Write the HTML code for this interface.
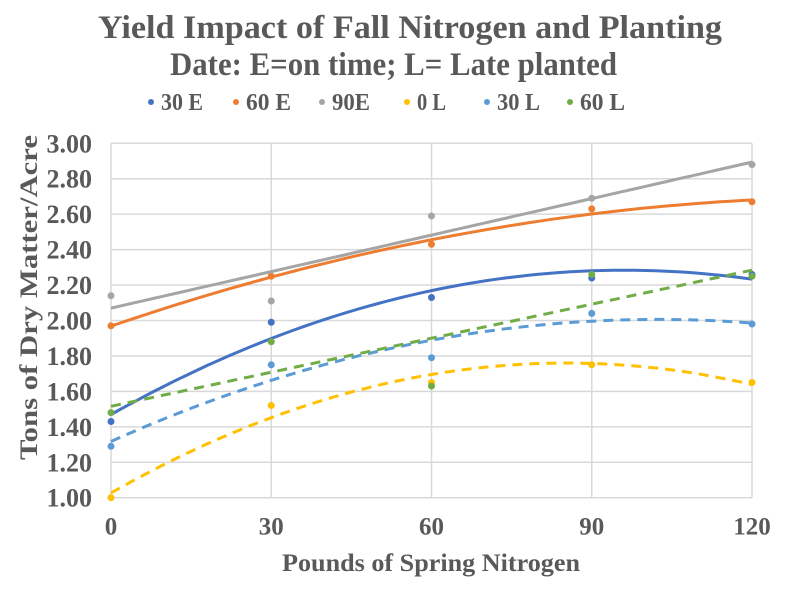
<!DOCTYPE html>
<html><head><meta charset="utf-8"><style>
body{margin:0;background:#fff;}
svg text{font-family:"Liberation Serif",serif;font-weight:bold;fill:#595959;}
</style></head><body>
<svg id="c" width="798" height="594">
<text x="98" y="38" font-size="33" textLength="624" lengthAdjust="spacingAndGlyphs">Yield Impact of Fall Nitrogen and Planting</text>
<text x="170" y="75" font-size="33" textLength="447" lengthAdjust="spacingAndGlyphs">Date: E=on time; L= Late planted</text>
<g id="legend"></g>
<g id="grid"></g>
<g id="series"></g>
<text x="282" y="571" font-size="25" textLength="298" lengthAdjust="spacingAndGlyphs">Pounds of Spring Nitrogen</text>
<text transform="translate(37,460) rotate(-90)" font-size="25" textLength="325" lengthAdjust="spacingAndGlyphs">Tons of Dry Matter/Acre</text>
</svg>
<script>
const xValues=[0,30,60,90,120];
const yTicks=[1.0,1.2,1.4,1.6,1.8,2.0,2.2,2.4,2.6,2.8,3.0];
const seriesNames=["30 E","60 E","90E","0 L","30 L","60 L"];
const s30E=[1.43,1.99,2.13,2.24,2.26];
const s60E=[1.97,2.25,2.43,2.63,2.67];
const s90E=[2.14,2.11,2.59,2.69,2.88];
const s0L=[1.0,1.52,1.65,1.75,1.65];
const s30L=[1.29,1.75,1.79,2.04,1.98];
const s60L=[1.48,1.88,1.63,2.26,2.25];
const allSeries=[s30E,s60E,s90E,s0L,s30L,s60L];
const colors=["#4472C4","#ED7D31","#A5A5A5","#FFC000","#5B9BD5","#70AD47"];
const dashed=[false,false,false,true,true,true];
const order=[2,2,1,2,2,1];
const NS="http://www.w3.org/2000/svg";
const X0=111,X1=752,Y0=497.7,Y1=143.3;
const sx=v=>X0+(v-0)/120*(X1-X0);
const sy=v=>Y0-(v-1)/2*(Y0-Y1);
function mk(t,a,p){const e=document.createElementNS(NS,t);for(const k in a)e.setAttribute(k,a[k]);p.appendChild(e);return e;}
const grid=document.getElementById('grid');
yTicks.forEach(t=>{
 const l=mk('line',{x1:X0,x2:X1,y1:sy(t),y2:sy(t),stroke:'#d9d9d9','stroke-width':1.5},grid);
 
 
 const tx=mk('text',{x:92,y:sy(t)+9,'font-size':26,'text-anchor':'end'},grid);tx.textContent=t.toFixed(2);
 
 
});
xValues.forEach(v=>{
 const l=mk('line',{x1:sx(v),x2:sx(v),y1:Y1,y2:Y0,stroke:'#d9d9d9','stroke-width':1.5},grid);
 
 
 const tx=mk('text',{x:sx(v),y:Y0+37,'font-size':25,'text-anchor':'middle'},grid);tx.textContent=v;
 
 
});
function solve(A,b){const n=b.length;A=A.map((r,i)=>[...r,b[i]]);for(let i=0;i<n;i++){let m=i;for(let j=i+1;j<n;j++)if(Math.abs(A[j][i])>Math.abs(A[m][i]))m=j;[A[i],A[m]]=[A[m],A[i]];for(let j=i+1;j<n;j++){const f=A[j][i]/A[i][i];for(let k=i;k<=n;k++)A[j][k]-=f*A[i][k];}}const x=new Array(n).fill(0);for(let i=n-1;i>=0;i--){let s=A[i][n];for(let k=i+1;k<n;k++)s-=A[i][k]*x[k];x[i]=s/A[i][i];}return x;}
function fit(ys,deg){const n=deg+1;const A=[...Array(n)].map(()=>new Array(n).fill(0)),b=new Array(n).fill(0);xValues.forEach((x,i)=>{if(ys[i]==null)return;for(let r=0;r<n;r++){b[r]+=ys[i]*Math.pow(x,r);for(let c=0;c<n;c++)A[r][c]+=Math.pow(x,r+c);}});return solve(A,b);}
const sg=document.getElementById('series');
allSeries.forEach((ys,si)=>{
 const g=mk('g',{},sg);
 
 
 const c=fit(ys,order[si]);let d='';
 for(let x=0;x<=120;x+=2){const y=c.reduce((s,a,k)=>s+a*Math.pow(x,k),0);d+=(x?'L':'M')+sx(x).toFixed(1)+','+sy(y).toFixed(1);}
 const p=mk('path',{d:d,fill:'none',stroke:colors[si],'stroke-width':3,'stroke-dasharray':dashed[si]?'10,7':'none'},g);
 
 
 ys.forEach((y,i)=>{if(y==null)return;
  const pt=mk('circle',{cx:sx(xValues[i]),cy:sy(y),r:3.5,fill:colors[si]},g);
  
  });
});
const lg=document.getElementById('legend');
const lx=[151,236,322,407,487,570];
const lw=[42,45,38,29,43,45];
seriesNames.forEach((n,i)=>{
 const g=mk('g',{},lg);
 
 
 mk('circle',{cx:lx[i],cy:102,r:3,fill:colors[i]},g);
 const t=mk('text',{x:lx[i]+10,y:110,'font-size':24,textLength:lw[i],lengthAdjust:'spacingAndGlyphs'},g);t.textContent=n;
});
</script>
</body></html>
